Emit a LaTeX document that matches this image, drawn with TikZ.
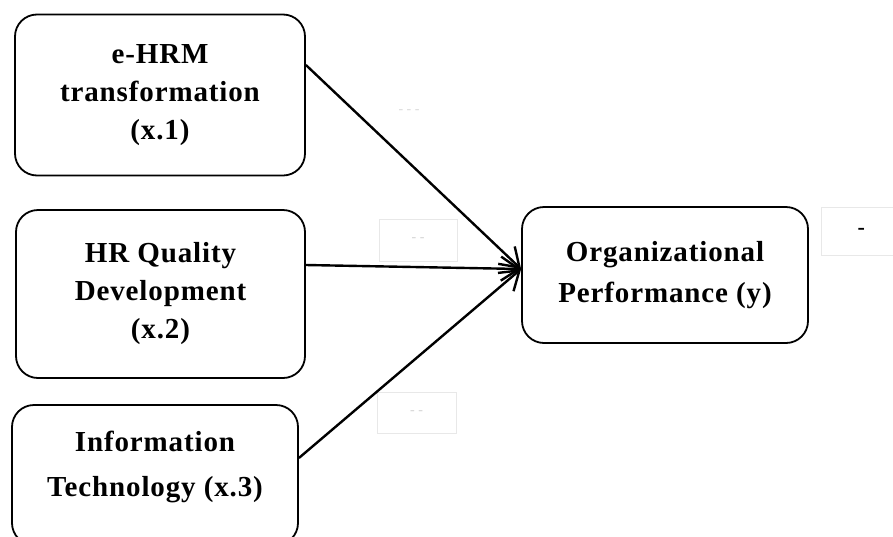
\documentclass[tikz,border=0pt]{standalone}
\usepackage{fontspec}
\setmainfont{Liberation Serif}
\newfontfamily\boxfont{Liberation Serif}[LetterSpace=3]
\usetikzlibrary{positioning,arrows.meta}

\begin{document}
\begin{tikzpicture}[
      x=1pt, y=-1pt,
      every node/.style={font=\boxfont\bfseries\fontsize{29}{38}\selectfont},
      var/.style={draw, line width=1.8pt, rounded corners=22pt, align=center, inner sep=0pt},
      tag/.style={draw=gray!18, line width=0.6pt, inner sep=0pt, font=\fontsize{14}{16}\selectfont, text=gray!35},
      arrow/.style={-{Straight Barb[length=18pt,width=24pt]}, line width=2.4pt},
    ]
    \useasboundingbox (0,0) rectangle (893,536);
    \clip (0,0) rectangle (893,536);

    % Independent variables
    \node[var, minimum width=290pt, minimum height=161pt] (ehrm) at (160,95) {e-HRM\\transformation\\(x.1)};
    \node[var, minimum width=289pt, minimum height=168pt] (hrq) at (160.5,294) {HR Quality\\Development\\(x.2)};
    \node[var, minimum width=286pt, minimum height=140pt, text depth=22pt] (it) at (155,475) {Information\\[7pt]Technology (x.3)};

    % Dependent variable
    \node[var, minimum width=286pt, minimum height=136pt] (perf) at (665,275) {Organizational\\[3pt]Performance (y)};

    % Coefficient tags
    \node[tag, minimum width=78pt, minimum height=42pt] (c2) at (418,240) {- -};
    \node[tag, minimum width=79pt, minimum height=41pt] (c3) at (416.5,412.5) {- -};
    \node[text=gray!30, font=\fontsize{14}{16}\selectfont] (c1) at (409,112) {- - -};
    \node[tag, text=black, font=\bfseries\fontsize{22}{24}\selectfont, minimum width=80pt, minimum height=48pt, anchor=north west] (r2) at (821,207) {-};

    % Arrows
    \draw[arrow] ([yshift=30pt]ehrm.east) -- ([yshift=6pt]perf.west);
    \draw[arrow] ([yshift=29pt]hrq.east) -- ([yshift=6pt]perf.west);
    \draw[arrow] ([yshift=17pt]it.east) -- ([yshift=6pt]perf.west);
  \end{tikzpicture}
\end{document}
